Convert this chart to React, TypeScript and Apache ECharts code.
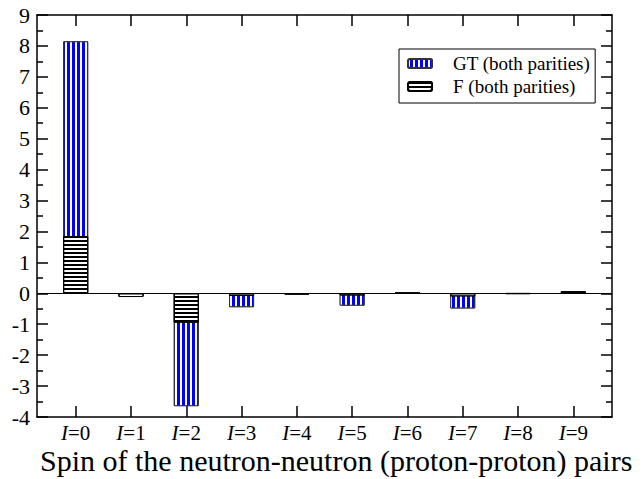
import { useEffect, useRef } from 'react';
import * as echarts from 'echarts';

const spins = [0, 1, 2, 3, 4, 5, 6, 7, 8, 9];
const gtValues = [8.15, -0.1, -3.65, -0.45, -0.04, -0.4, 0.02, -0.49, -0.02, 0.05];
const fValues = [1.85, -0.12, -0.95, -0.08, -0.03, -0.07, 0.01, -0.1, -0.01, 0.07];
const seriesNames = ['GT (both parities)', 'F (both parities)'];
const xTitle = 'Spin of the neutron-neutron (proton-proton) pairs';

const font = "'Liberation Serif', 'Times New Roman', 'DejaVu Serif', serif";
const ax = { color: '#000', width: 1.5 };

export default function App() {
  const ref = useRef<HTMLDivElement>(null);
  useEffect(() => {
    const chart = echarts.init(ref.current!, null, { renderer: 'svg' });
    const xCommon = {
      type: 'value',
      min: -0.7,
      max: 9.7,
      splitLine: { show: false },
      axisLine: { show: true, onZero: false, lineStyle: ax },
      axisTick: { show: true, inside: true, length: 11, customValues: spins, lineStyle: ax },
    };
    const yCommon = {
      type: 'value',
      min: -4,
      max: 9,
      interval: 1,
      splitLine: { show: false },
      axisLine: { show: true, onZero: false, lineStyle: ax },
      axisTick: { show: true, inside: true, length: 11, lineStyle: ax },
      minorTick: { show: true, splitNumber: 2, length: 6, lineStyle: ax },
    };
    chart.setOption({
      animation: false,
      backgroundColor: '#fff',
      grid: { left: 37, right: 32, top: 15, bottom: 62 },
      legend: {
        left: 399,
        top: 49,
        orient: 'vertical',
        padding: [5, 5, 7, 8],
        itemGap: 4,
        itemWidth: 24,
        itemHeight: 9,
        borderColor: '#000',
        borderWidth: 1,
        backgroundColor: '#fff',
        selectedMode: false,
        textStyle: { fontFamily: font, fontSize: 19, color: '#000', padding: [0, 0, 0, 16] },
        data: seriesNames,
      },
      xAxis: [
        {
          ...xCommon,
          position: 'bottom',
          axisLabel: {
            show: true,
            customValues: spins,
            formatter: (v: number) => `{i|I}=${v}`,
            fontSize: 21,
            lineHeight: 18,
            fontFamily: font,
            color: '#000',
            margin: 7,
            rich: { i: { fontStyle: 'italic', fontSize: 21, lineHeight: 18, fontFamily: font, color: '#000' } },
          },
        },
        { ...xCommon, position: 'top', axisLabel: { show: false } },
      ],
      yAxis: [
        {
          ...yCommon,
          position: 'left',
          axisLabel: { fontSize: 22, fontFamily: font, color: '#000', margin: 7 },
        },
        { ...yCommon, position: 'right', axisLabel: { show: false } },
      ],
      graphic: [
        {
          type: 'text',
          left: 40,
          top: 445,
          style: { text: xTitle, fontSize: 30, lineHeight: 22, fontFamily: font, fill: '#000' },
        },
      ],
      series: [
        {
          name: seriesNames[0],
          type: 'bar',
          xAxisIndex: 0,
          yAxisIndex: 0,
          barWidth: 25,
          barGap: '-100%',
          emphasis: { disabled: true },
          data: spins.map((s, i) => [s, gtValues[i]]),
          itemStyle: {
            color: '#0000ff',
            borderColor: '#333',
            borderWidth: 1,
            decal: {
              symbol: 'rect',
              symbolSize: 1,
              color: '#ffffff',
              backgroundColor: '#0000ff',
              dashArrayX: [1.7, 2.3],
              dashArrayY: [5, 0],
            },
          },
        },
        {
          name: seriesNames[1],
          type: 'bar',
          xAxisIndex: 0,
          yAxisIndex: 0,
          barWidth: 25,
          barGap: '-100%',
          emphasis: { disabled: true },
          data: spins.map((s, i) => [s, fValues[i]]),
          itemStyle: {
            color: '#ffffff',
            borderColor: '#000',
            borderWidth: 1,
            decal: {
              symbol: 'rect',
              symbolSize: 1,
              color: '#000000',
              backgroundColor: '#ffffff',
              dashArrayX: [5, 0],
              dashArrayY: [1.8, 1.8],
            },
          },
          markLine: {
            silent: true,
            symbol: ['none', 'none'],
            label: { show: false },
            lineStyle: { color: '#000', width: 1.2, type: 'solid' },
            data: [{ yAxis: 0 }],
          },
        },
      ],
    });
    return () => chart.dispose();
  }, []);
  return (
    <div
      ref={ref}
      style={{ position: 'fixed', left: 0, top: 0, width: 644, height: 479, background: '#fff' }}
    />
  );
}
